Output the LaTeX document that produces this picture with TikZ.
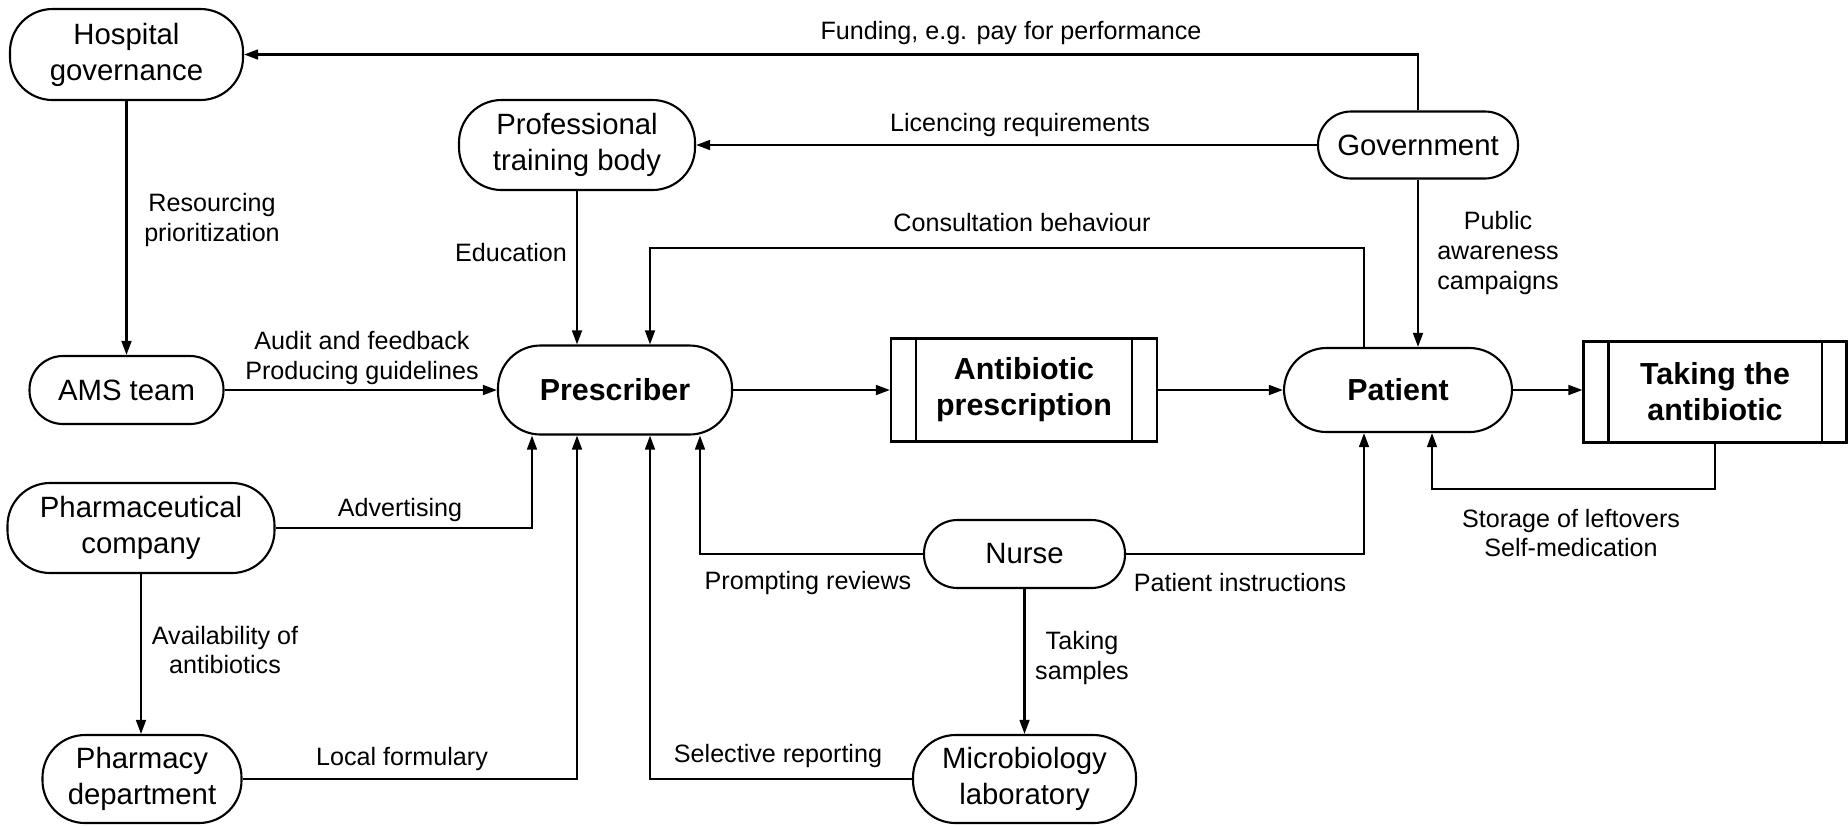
\documentclass[tikz,border=0pt]{standalone}
\usepackage{fontspec}
\setmainfont{Liberation Sans}
\usetikzlibrary{arrows.meta,positioning,calc}

\begin{document}
\begin{tikzpicture}[
  actor/.style={draw, line width=1.2pt, rounded corners=#1, align=center, inner sep=0pt, font={\fontsize{16.7pt}{20.5pt}\selectfont}},
  actor/.default=0.85cm,
  central/.style={actor, font={\fontsize{17.3pt}{20.5pt}\selectfont\bfseries}},
  procbox/.style={draw, line width=1.2pt, align=center, inner sep=0pt, minimum width=5.32cm, minimum height=2.06cm, font={\fontsize{17.3pt}{20.5pt}\selectfont\bfseries}},
  lbl/.style={align=center, inner sep=0pt, font={\fontsize{14.3pt}{17pt}\selectfont}},
  arr/.style={line width=1.2pt, -{Triangle[length=8pt,width=5.6pt]}}
]
\useasboundingbox (0,0) rectangle (36.96,-16.5);

% actors
\node[actor, minimum width=4.66cm, minimum height=1.82cm] (hosp) at (2.53,-1.09) {Hospital\\governance};
\node[actor, minimum width=4.72cm, minimum height=1.8cm] (ptb) at (11.54,-2.9) {Professional\\training body};
\node[actor=0.66cm, minimum width=4.0cm, minimum height=1.34cm] (gov) at (28.36,-2.9) {Government};
\node[actor=0.67cm, minimum width=3.88cm, minimum height=1.36cm] (ams) at (2.53,-7.8) {AMS team};
\node[central, minimum width=4.68cm, minimum height=1.78cm] (pres) at (12.3,-7.8) {Prescriber};
\node[procbox] (abx) at (20.48,-7.8) {Antibiotic\\prescription};
\node[central, minimum width=4.56cm, minimum height=1.68cm] (pat) at (27.96,-7.8) {Patient};
\node[procbox, minimum width=5.26cm, minimum height=2.02cm] (take) at (34.3,-7.84) {Taking the\\antibiotic};
\node[actor, minimum width=5.34cm, minimum height=1.8cm] (pharma) at (2.82,-10.56) {Pharmaceutical\\company};
\node[actor, minimum width=3.98cm, minimum height=1.76cm] (pharmd) at (2.84,-15.58) {Pharmacy\\department};
\node[actor=0.67cm, minimum width=4.02cm, minimum height=1.36cm] (nurse) at (20.49,-11.08) {Nurse};
\node[actor, minimum width=4.46cm, minimum height=1.76cm] (micro) at (20.49,-15.58) {Microbiology\\laboratory};

% double side bars of the process boxes
\foreach \n in {abx,take} {
  \draw[line width=1.2pt] ([xshift=0.52cm]\n.north west) -- ([xshift=0.52cm]\n.south west);
  \draw[line width=1.2pt] ([xshift=-0.52cm]\n.north east) -- ([xshift=-0.52cm]\n.south east);
}

% turning points
\coordinate (cturn) at (13.0,-4.96);

% connectors
\draw[arr] (gov.north) |- (hosp.east);
\draw[arr] (gov.west) -- (ptb.east);
\draw[arr] (hosp.south) -- (hosp.south |- ams.north);
\draw[arr] (ptb.south) -- (ptb.south |- pres.north);
\draw[arr] ([xshift=-0.68cm]pat.north) |- (cturn) -- (cturn |- pres.north);
\draw[arr] (gov.south) -- (gov.south |- pat.north);
\draw[arr] (ams.east) -- (ams.east -| pres.west);
\draw[arr] (pres.east) -- (pres.east -| abx.west);
\draw[arr] (abx.east) -- (abx.east -| pat.west);
\draw[arr] (pat.east) -- (pat.east -| take.west);
\draw[arr] (pharma.east) -| ([xshift=-1.66cm]pres.south);
\draw[arr] (pharma.south) -- (pharma.south |- pharmd.north);
\draw[arr] (pharmd.east) -| (ptb.south |- pres.south);
\draw[arr] (micro.west) -| (cturn |- pres.south);
\draw[arr] (nurse.west) -| ([xshift=1.7cm]pres.south);
\draw[arr] (nurse.east) -| ([xshift=-0.68cm]pat.south);
\draw[arr] (nurse.south) -- (micro.north);
\draw[arr] (take.south) -- ++(0,-0.9) -| ([xshift=0.68cm]pat.south);

% labels
\node[lbl] (lfund) at (20.22,-0.66) {Funding, e.g. pay for performance};
\node[lbl] (llic) at (20.4,-2.5) {Licencing requirements};
\node[lbl] (lcons) at (20.44,-4.46) {Consultation behaviour};
\node[lbl] (lres) at (4.24,-4.4) {Resourcing\\prioritization};
\node[lbl] (ledu) at (10.22,-5.06) {Education};
\node[lbl] (lpub) at (29.96,-5.06) {Public\\awareness\\campaigns};
\node[lbl] (laudit) at (7.24,-7.16) {Audit and feedback\\Producing guidelines};
\node[lbl] (ladv) at (8.0,-10.2) {Advertising};
\node[lbl] (lavail) at (4.5,-13.0) {Availability of\\antibiotics};
\node[lbl] (lform) at (8.04,-15.18) {Local formulary};
\node[lbl] (lprompt) at (16.16,-11.66) {Prompting reviews};
\node[lbl] (linstr) at (24.8,-11.66) {Patient instructions};
\node[lbl] (lsamp) at (21.64,-13.16) {Taking\\samples};
\node[lbl] (lsel) at (15.56,-15.12) {Selective reporting};
\node[lbl] (lstore) at (31.42,-10.66) {Storage of leftovers\\Self-medication};
\end{tikzpicture}
\end{document}
